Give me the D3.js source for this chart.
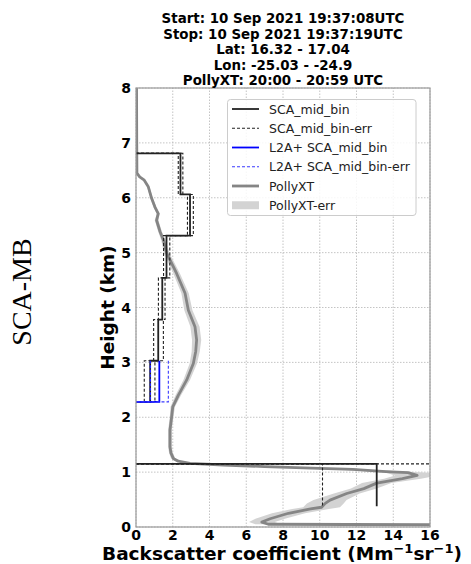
<!DOCTYPE html>
<html>
<head>
<meta charset="utf-8">
<script src="https://cdn.jsdelivr.net/npm/d3@7"></script>
<style>
  html, body { margin: 0; padding: 0; background: #fff; }
  svg { display: block; }
</style>
</head>
<body>
<svg id="chart" width="471" height="564"></svg>
<script>
// ---------------- DATA ----------------
const titleLines = [
  "Start: 10 Sep 2021 19:37:08UTC",
  "Stop: 10 Sep 2021 19:37:19UTC",
  "Lat: 16.32 - 17.04",
  "Lon: -25.03 - -24.9",
  "PollyXT: 20:00 - 20:59 UTC"
];
const xTicks = [0, 2, 4, 6, 8, 10, 12, 14, 16];
const yTicks = [0, 1, 2, 3, 4, 5, 6, 7, 8];

// SCA_mid_bin (top to bottom bins, km); zero-height bins mark returns to 0
const scaTop    = [6.81, 6.81, 6.06, 5.31, 4.54, 3.78, 3.03, 2.28, 1.15, 1.15];
const scaBottom = [6.81, 6.06, 5.31, 4.54, 3.78, 3.03, 2.28, 2.28, 1.15, 0.38];
const scaValue  = [0, 2.42, 2.94, 1.66, 1.43, 1.21, 0.77, 0, 0, 13.10];
const scaLow    = [0, 2.30, 2.80, 1.50, 1.22, 0.96, 0.45, 0, 0, 10.15];
const scaHigh   = [0, 2.55, 3.12, 1.84, 1.58, 1.49, 1.03, 0, 0, 16.05];

// L2A+ SCA_mid_bin
const l2aTop    = [3.03, 2.28];
const l2aBottom = [2.28, 2.28];
const l2aValue  = [1.27, 0];
const l2aLow    = [0.78, 0];
const l2aHigh   = [1.76, 0];

// PollyXT profile (backscatter, height km) and its error
const pollyBsc = [17, 7.2, 6.85, 7.3, 8.3, 9.5, 10.1, 10.3, 10.56, 11.47, 12.4, 13.1, 14.5, 15.3, 14.8, 13.6, 11.8, 10.0, 7.0, 4.75, 2.94, 2.3, 2.03, 1.9, 1.85, 1.85, 1.94, 2.0, 2.3, 2.76, 3.12, 3.25, 3.3, 3.21, 2.85, 2.67, 2.21, 1.67, 1.49, 1.31, 1.12, 1.21, 1.03, 0.85, 0.67, 0.45, 0.2, 0.05, 0.04, 0.03];
const pollyH   = [0.04, 0.05, 0.09, 0.15, 0.25, 0.33, 0.36, 0.43, 0.49, 0.61, 0.70, 0.80, 0.88, 0.94, 0.99, 1.01, 1.05, 1.07, 1.10, 1.13, 1.16, 1.20, 1.25, 1.35, 1.46, 1.77, 2.01, 2.19, 2.40, 2.68, 2.98, 3.20, 3.41, 3.65, 3.95, 4.26, 4.62, 4.99, 5.23, 5.38, 5.59, 5.71, 5.83, 5.99, 6.20, 6.32, 6.38, 6.45, 7.00, 8.00];
const pollyErr = [0.5, 0.7, 0.7, 0.8, 0.9, 1.0, 1.0, 1.0, 0.9, 0.7, 0.7, 0.8, 1.0, 1.2, 1.2, 1.0, 0.8, 0.6, 0.4, 0.3, 0.2, 0.15, 0.12, 0.1, 0.1, 0.1, 0.1, 0.12, 0.15, 0.18, 0.2, 0.22, 0.25, 0.25, 0.22, 0.2, 0.18, 0.15, 0.12, 0.1, 0.1, 0.08, 0.08, 0.07, 0.06, 0.05, 0.05, 0.04, 0.03, 0.03];

const legendLabels = ["SCA_mid_bin", "SCA_mid_bin-err", "L2A+ SCA_mid_bin", "L2A+ SCA_mid_bin-err", "PollyXT", "PollyXT-err"];

// ---------------- LAYOUT ----------------
const W = 471, H = 564;
const m = { left: 136, right: 41, top: 88, bottom: 37 };
const svg = d3.select("#chart");
const x = d3.scaleLinear().domain([0, 16]).range([m.left, W - m.right]);
const y = d3.scaleLinear().domain([0, 8]).range([H - m.bottom, m.top]);

const BOLD = "'DejaVu Sans', sans-serif";

svg.append("defs").append("clipPath").attr("id", "clip")
  .append("rect").attr("x", m.left).attr("y", m.top)
  .attr("width", x(16) - x(0)).attr("height", y(0) - y(8));

// grid
const grid = svg.append("g");
grid.selectAll(".gx").data(xTicks).join("line")
  .attr("x1", d => x(d)).attr("x2", d => x(d))
  .attr("y1", y(0)).attr("y2", y(8))
  .attr("stroke", "#b5b5b5").attr("stroke-width", 0.8).attr("stroke-dasharray", "1.5,1.5");
grid.selectAll(".gy").data(yTicks).join("line")
  .attr("x1", x(0)).attr("x2", x(16))
  .attr("y1", d => y(d)).attr("y2", d => y(d))
  .attr("stroke", "#b5b5b5").attr("stroke-width", 0.8).attr("stroke-dasharray", "1.5,1.5");

const plot = svg.append("g").attr("clip-path", "url(#clip)");

// PollyXT band + line
const pdata = pollyBsc.map((v, i) => ({ v, h: pollyH[i], e: pollyErr[i] }));
plot.append("path").datum(pdata)
  .attr("d", d3.area().y(d => y(d.h)).x0(d => x(d.v - d.e)).x1(d => x(d.v + d.e)).curve(d3.curveLinear))
  .attr("fill", "#d3d3d3").attr("stroke", "none");
plot.append("path").datum(pdata)
  .attr("d", d3.line().x(d => x(d.v)).y(d => y(d.h)).curve(d3.curveLinear))
  .attr("fill", "none").attr("stroke", "#858585").attr("stroke-width", 2.8)
  .attr("stroke-linejoin", "round");

// step profile builder
function stepPoints(tops, bots, vals) {
  const segs = [];
  let cur = null;
  for (let i = 0; i < vals.length; i++) {
    const contiguous = i > 0 && Math.abs(bots[i - 1] - tops[i]) < 0.01;
    if (!contiguous) { cur = []; segs.push(cur); }
    cur.push([vals[i], tops[i]]);
    cur.push([vals[i], bots[i]]);
  }
  return segs;
}
const lineGen = d3.line().x(d => x(d[0])).y(d => y(d[1]));
function drawStep(tops, bots, vals, color, width, dash) {
  stepPoints(tops, bots, vals).forEach(seg => {
    plot.append("path").attr("d", lineGen(seg))
      .attr("fill", "none").attr("stroke", color).attr("stroke-width", width)
      .attr("stroke-dasharray", dash || null);
  });
}
drawStep(scaTop, scaBottom, scaLow, "#222", 1.1, "3,2");
drawStep(scaTop, scaBottom, scaHigh, "#222", 1.1, "3,2");
drawStep(scaTop, scaBottom, scaValue, "#222", 1.8);
drawStep(l2aTop, l2aBottom, l2aValue, "#0000ff", 1.8);
drawStep(l2aTop, l2aBottom, l2aLow, "#2020ff", 1.3, "3,1.5");
drawStep(l2aTop, l2aBottom, l2aHigh, "#3a3aff", 1.1, "3,2");

// spines
svg.append("rect").attr("x", x(0)).attr("y", y(8))
  .attr("width", x(16) - x(0)).attr("height", y(0) - y(8))
  .attr("fill", "none").attr("stroke", "#9a9a9a").attr("stroke-width", 1.2);

// tick labels
svg.append("g").selectAll("text").data(xTicks).join("text")
  .attr("x", d => x(d)).attr("y", y(0) + 13)
  .attr("text-anchor", "middle")
  .attr("font-family", BOLD).attr("font-weight", "bold").attr("font-size", 14)
  .text(d => d);
svg.append("g").selectAll("text").data(yTicks).join("text")
  .attr("x", x(0) - 5).attr("y", d => y(d) + 5)
  .attr("text-anchor", "end")
  .attr("font-family", BOLD).attr("font-weight", "bold").attr("font-size", 14)
  .text(d => d);

// axis labels
const xl = svg.append("text").attr("x", 282).attr("y", 559.5)
  .attr("text-anchor", "middle")
  .attr("font-family", BOLD).attr("font-weight", "bold").attr("font-size", 18.5);
xl.append("tspan").text("Backscatter coefficient (Mm");
xl.append("tspan").attr("dy", -7).attr("font-size", 13).text("\u22121");
xl.append("tspan").attr("dy", 7).text("sr");
xl.append("tspan").attr("dy", -7).attr("font-size", 13).text("\u22121");
xl.append("tspan").attr("dy", 7).text(")");

svg.append("text")
  .attr("transform", `translate(114,${(y(0) + y(8)) / 2}) rotate(-90)`)
  .attr("text-anchor", "middle")
  .attr("font-family", BOLD).attr("font-weight", "bold").attr("font-size", 18.5)
  .text("Height (km)");

svg.append("text")
  .attr("transform", "translate(31,292) rotate(-90)")
  .attr("text-anchor", "middle")
  .attr("font-family", "'Liberation Serif', 'Times New Roman', serif").attr("font-size", 28)
  .text("SCA-MB");

// title
svg.append("g").selectAll("text").data(titleLines).join("text")
  .attr("x", (x(0) + x(16)) / 2).attr("y", (d, i) => 23 + i * 15.6)
  .attr("text-anchor", "middle")
  .attr("font-family", BOLD).attr("font-weight", "bold").attr("font-size", 13.4)
  .text(d => d);

// legend
const lg = svg.append("g");
lg.append("rect").attr("x", 227.5).attr("y", 99.5).attr("width", 188.5).attr("height", 116)
  .attr("rx", 3).attr("fill", "#fff").attr("fill-opacity", 0.85)
  .attr("stroke", "#cccccc").attr("stroke-width", 1);
const styles = [
  { c: "#222", w: 1.8, d: null },
  { c: "#222", w: 1.1, d: "3,2" },
  { c: "#0000ff", w: 1.8, d: null },
  { c: "#3a3aff", w: 1.1, d: "3,2" },
  { c: "#858585", w: 2.8, d: null },
  { c: "band" }
];
legendLabels.forEach((lab, i) => {
  const cy = 109 + i * 19.25;
  const s = styles[i];
  if (s.c === "band") {
    lg.append("rect").attr("x", 232).attr("y", cy - 4).attr("width", 27).attr("height", 8)
      .attr("fill", "#d3d3d3");
  } else {
    lg.append("line").attr("x1", 232).attr("x2", 259).attr("y1", cy).attr("y2", cy)
      .attr("stroke", s.c).attr("stroke-width", s.w).attr("stroke-dasharray", s.d);
  }
  lg.append("text").attr("x", 269).attr("y", cy + 4.5)
    .attr("font-family", "'DejaVu Sans', sans-serif").attr("font-size", 12.5)
    .attr("fill", "#222").text(lab);
});
</script>
</body>
</html>
